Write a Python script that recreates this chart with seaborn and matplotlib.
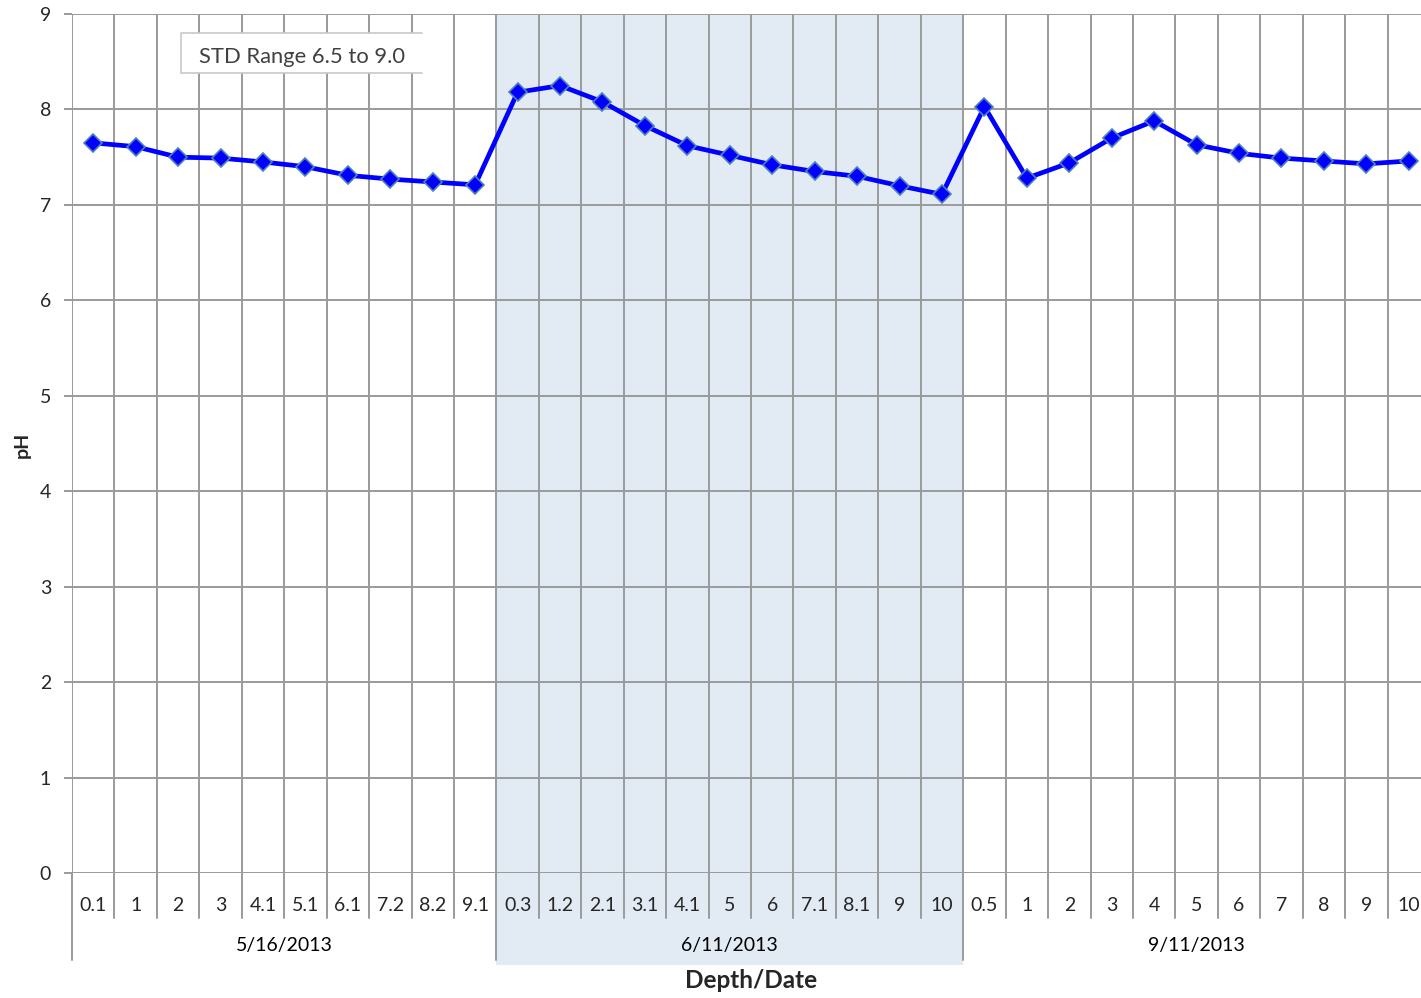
import numpy as np
import pandas as pd
import matplotlib
matplotlib.use("Agg")
import matplotlib.pyplot as plt
import matplotlib.transforms as mtransforms
from matplotlib.patches import Rectangle
from matplotlib.lines import Line2D
import seaborn as sns

# ---- data ----
dates = ["5/16/2013", "6/11/2013", "9/11/2013"]
depths_0516 = ["0.1", "1", "2", "3", "4.1", "5.1", "6.1", "7.2", "8.2", "9.1"]
depths_0611 = ["0.3", "1.2", "2.1", "3.1", "4.1", "5", "6", "7.1", "8.1", "9", "10"]
depths_0911 = ["0.5", "1", "2", "3", "4", "5", "6", "7", "8", "9", "10"]
ph_0516 = [7.65, 7.61, 7.50, 7.49, 7.45, 7.40, 7.31, 7.27, 7.24, 7.21]
ph_0611 = [8.18, 8.25, 8.08, 7.83, 7.62, 7.52, 7.42, 7.35, 7.30, 7.20, 7.11]
ph_0911 = [8.03, 7.28, 7.44, 7.70, 7.88, 7.63, 7.54, 7.49, 7.46, 7.43, 7.46]
note_text = "STD Range 6.5 to 9.0"

groups = [depths_0516, depths_0611, depths_0911]
labels = depths_0516 + depths_0611 + depths_0911
values = ph_0516 + ph_0611 + ph_0911
pos = np.arange(len(labels))
df = pd.DataFrame({"pos": pos, "pH": values})

sns.set_theme(style="white")
plt.rcParams["font.family"] = ["Lato", "DejaVu Sans"]

W, H = 1421, 998
fig = plt.figure(figsize=(W / 100, H / 100), dpi=100)
left_px, right_px, top_px, bottom_px = 72, 1430, 14, 873
ax = fig.add_axes([left_px / W, 1 - bottom_px / H, (right_px - left_px) / W, (bottom_px - top_px) / H])
ax_h = bottom_px - top_px

grid_c = "#9a9a9a"
n = len(labels)
ax.set_xlim(-0.5, n - 0.5)
ax.set_ylim(0, 9)

# shaded group (second date)
start2 = len(depths_0516) - 0.5
end2 = start2 + len(depths_0611)
trans = mtransforms.blended_transform_factory(ax.transData, ax.transAxes)
shade_bottom = -(965 - bottom_px) / ax_h
ax.add_patch(Rectangle((start2, shade_bottom), end2 - start2, 1 - shade_bottom,
                       transform=trans, facecolor="#E2EAF4", edgecolor="none",
                       clip_on=False, zorder=0))

# grid
ax.set_yticks(range(0, 10))
ax.set_xticks(pos)
ax.set_xticks(np.arange(-0.5, n, 1.0), minor=True)
ax.grid(which="minor", axis="x", color=grid_c, linewidth=1.4, zorder=1)
ax.grid(which="major", axis="y", color=grid_c, linewidth=1.4, zorder=1)
ax.grid(which="major", axis="x", visible=False)
ax.set_axisbelow(True)
for s in ax.spines.values():
    s.set_visible(False)
ax.patch.set_alpha(0)

ax.tick_params(axis="y", which="major", length=6, color=grid_c, width=1.4,
               labelsize=14, pad=9, left=True)
ax.tick_params(axis="x", which="both", length=0, labelsize=14, pad=17)
ax.set_xticklabels(labels)

# separators below axis
cat_len = -(918 - bottom_px) / ax_h
grp_len = -(960 - bottom_px) / ax_h
boundaries = [-0.5]
for g in groups:
    boundaries.append(boundaries[-1] + len(g))
for b in np.arange(-0.5, n, 1.0):
    yb = grp_len if b in boundaries else cat_len
    ax.plot([b, b], [0, yb], transform=trans, color=grid_c, lw=1.4, clip_on=False, zorder=1)

# group labels
for i, g in enumerate(groups):
    c = (boundaries[i] + boundaries[i + 1]) / 2
    ax.text(c, -(945 - bottom_px) / ax_h, dates[i], transform=trans,
            ha="center", va="center", fontsize=14, color="black")

# series
sns.lineplot(data=df, x="pos", y="pH", ax=ax, color="#0000FF", linewidth=3.4,
             marker="D", markersize=9, markerfacecolor="#0000FF",
             markeredgecolor="#4F81BD", markeredgewidth=1.2, sort=False, zorder=3)

ax.set_xlabel("")
ax.set_ylabel("")
fig.text(751 / W, 1 - 981 / H, "Depth/Date", fontsize=17.5, fontweight="bold",
         ha="center", va="center")
fig.text(22 / W, 1 - 445 / H, "pH", fontsize=14, fontweight="bold",
         ha="center", va="center", rotation=90)

# note box (open on the right side, as in the reference)
bx0, bx1, by0, by1 = 181 / W, 422 / W, 1 - 73 / H, 1 - 33 / H
fig.patches.append(Rectangle((bx0, by0), bx1 - bx0, by1 - by0,
                             transform=fig.transFigure, facecolor="white",
                             edgecolor="none", zorder=1))
fig.lines.append(Line2D([bx1, bx0, bx0, bx1], [by1, by1, by0, by0],
                        transform=fig.transFigure, color="#c8c8c8", lw=1.2, zorder=1.5))
fig.text(199 / W, 1 - 57 / H, note_text, fontsize=15.8, color="#404040",
         ha="left", va="center", zorder=2)

fig.savefig("out.png", dpi=100)
